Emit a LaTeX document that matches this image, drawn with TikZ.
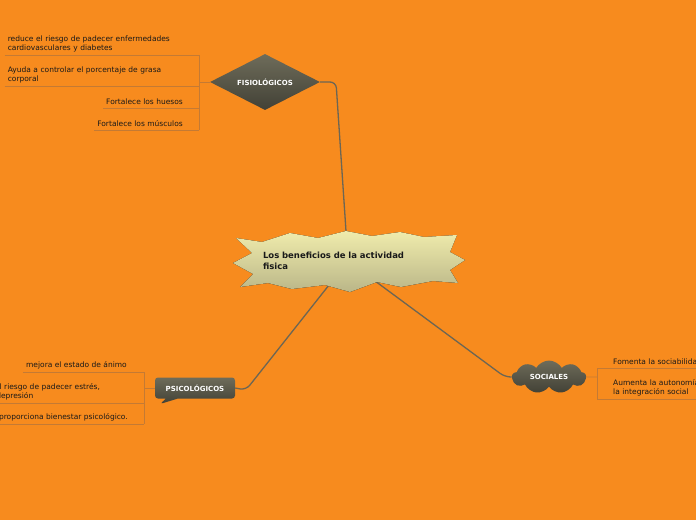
\documentclass[tikz,border=0pt]{standalone}
\usepackage{fontspec}
\setmainfont{DejaVu Sans}
\usetikzlibrary{shapes.geometric,shapes.symbols,shapes.callouts,backgrounds}

\definecolor{fondo}{RGB}{247,139,30}
\definecolor{ramagris}{RGB}{108,102,84}
\definecolor{hilomarron}{RGB}{196,122,52}
\definecolor{oscuroA}{RGB}{110,108,90}
\definecolor{oscuroB}{RGB}{66,65,54}
\definecolor{estrellaA}{RGB}{240,236,172}
\definecolor{estrellaB}{RGB}{186,182,136}
\definecolor{tinta}{RGB}{25,25,25}

\begin{document}
\begin{tikzpicture}[
    x=1pt, y=-1pt,
    rama/.style={draw=ramagris, line width=1.3pt, rounded corners=6pt},
    hilo/.style={draw=hilomarron, line width=0.8pt},
    tema/.style={text=white, font=\fontsize{7}{8}\selectfont\bfseries, inner sep=0pt,
        top color=oscuroA, bottom color=oscuroB},
    hojaI/.style={anchor=south east, inner xsep=3pt, inner ysep=3pt,
        font=\fontsize{7.5}{9}\selectfont, text=tinta, align=left},
    hojaD/.style={anchor=south west, inner xsep=3pt, inner ysep=3pt,
        font=\fontsize{7.5}{9}\selectfont, text=tinta, align=left}
]

\useasboundingbox (0,0) rectangle (696,520);
\begin{pgfonlayer}{background}
\fill[fondo] (0,0) rectangle (696,520);
\end{pgfonlayer}

% Central star
\fill[top color=estrellaA, bottom color=estrellaB]
    (236,238) -- (262,242) -- (290,233) -- (318,238) -- (346,231) -- (372,236)
    -- (400,232) -- (424,237) -- (457,235) -- (450,252) -- (465,260) -- (450,270)
    -- (458,283) -- (433,281) -- (401,287) -- (377,282) -- (350,292) -- (325,285)
    -- (292,289) -- (268,283) -- (240,287) -- (253,274) -- (233,263) -- (252,253)
    -- cycle;

% Nodes
\node (centro) [text width=170pt, align=left, inner sep=0pt, text=tinta,
    font=\fontsize{8.5}{11}\selectfont\bfseries] at (348,261)
    {Los beneficios de la actividad\\fisica};

\node (fisio) [tema, diamond, aspect=1.96, minimum width=110pt, minimum height=56pt]
    at (265,82) {FISIOLÓGICOS};

\node (psico) [tema, rectangle callout, rounded corners=3pt, minimum width=80pt,
    minimum height=21pt, callout absolute pointer={(160,404)},
    callout pointer width=12pt] at (195,388) {PSICOLÓGICOS};

\node (social) [tema, cloud, cloud puffs=9, cloud puff arc=120, aspect=2.3,
    minimum width=74pt, minimum height=32pt] at (549,377) {SOCIALES};

% Leaves
\node (f1) [hojaI, text width=175pt] at (186,55)
    {reduce el riesgo de padecer enfermedades\\cardiovasculares y diabetes};
\node (f2) [hojaI, text width=175pt] at (186,86)
    {Ayuda a controlar el porcentaje de grasa\\corporal};
\node (f3) [hojaI] at (186,108) {Fortalece los huesos};
\node (f4) [hojaI] at (186,130) {Fortalece los músculos};

\node (p1) [hojaI] at (130,372) {mejora el estado de ánimo};
\node (p2) [hojaI, text width=175pt] at (131,403)
    {Disminuye el riesgo de padecer estrés,\\ansiedad y depresión};
\node (p3) [hojaI] at (131,424) {proporciona bienestar psicológico.};

\node (s1) [hojaD] at (610,368) {Fomenta la sociabilidad};
\node (s2) [hojaD, text width=175pt] at (610,399)
    {Aumenta la autonomía y\\la integración social};

\coordinate (barF) at (199,82);
\coordinate (barP) at (144,388);
\coordinate (barS) at (597,377);
\coordinate (codoF) at (336,82);
\coordinate (codoP) at (246,390);
\coordinate (codoS) at (505,377);

% Connectors
\begin{pgfonlayer}{background}
\draw [rama] (fisio.east) -- (codoF) -- (centro);
\draw [rama] (psico.east) -- (codoP) -- (centro);
\draw [rama] (social.west) -- (codoS) -- (centro);

\draw [hilo] (fisio.west) -- (barF);
\draw [hilo] (barF |- f1.south) -- (barF |- f4.south);
\foreach \h in {f1,f2,f3,f4}
    \draw [hilo] (\h.south west) -- (barF |- \h.south);

\draw [hilo] (psico.west) -- (barP);
\draw [hilo] (barP |- p1.south) -- (barP |- p3.south);
\foreach \h in {p1,p2,p3}
    \draw [hilo] (\h.south west) -- (barP |- \h.south);

\draw [hilo] (social.east) -- (barS);
\draw [hilo] (barS |- s1.south) -- (barS |- s2.south);
\foreach \h in {s1,s2}
    \draw [hilo] (\h.south east) -- (barS |- \h.south);
\end{pgfonlayer}

\end{tikzpicture}
\end{document}
